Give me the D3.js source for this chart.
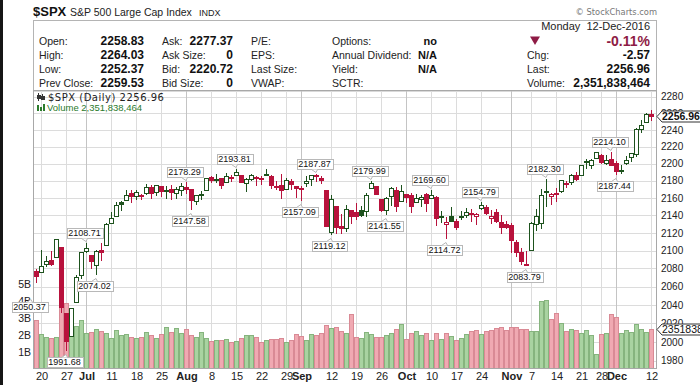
<!DOCTYPE html>
<html>
<head>
<meta charset="utf-8">
<script src="https://cdnjs.cloudflare.com/ajax/libs/d3/7.8.5/d3.min.js"></script>
<style>
  body { margin: 0; background: #fff; }
  svg { display: block; font-family: "Liberation Sans", Arial, sans-serif; }
</style>
</head>
<body>
<div id="chart"></div>
<script>
// daily bars, 17-Jun-2016 .. 12-Dec-2016 (index 0 = Jun 17)
var prevClose0 = 2077.99;

var opens = [2077.0,2075.6,2085.2,2089.8,2092.3,2103.8,2031.5,2006.7,2042.7,2073.2,
  2099.3,2095.1,2084.4,2100.4,2106.0,2131.7,2139.5,2155.8,2157.9,2165.1,
  2162.0,2163.8,2166.1,2172.9,2166.5,2173.7,2168.97,2169.8,2166.1,2168.8,
  2173.15,2169.9,2156.8,2163.5,2168.8,2183.8,2182.2,2182.8,2177.97,2183.7,
  2186.1,2186.2,2177.8,2181.9,2184.2,2181.6,2187.8,2185.1,2173.3,2175.1,
  2170.2,2179.5,2173.6,2171.3,2177.5,2181.6,2185.2,2182.8,2169.1,2120.9,
  2150.5,2127.9,2125.4,2146.5,2143.99,2145.9,2144.6,2170.9,2173.3,2158.5,
  2146.0,2161.9,2168.9,2156.5,2164.3,2163.4,2155.1,2158.2,2164.2,2160.4,
  2161.4,2137.7,2130.3,2139.7,2132.95,2138.3,2140.8,2142.5,2139.4,2148.5,
  2149.7,2136.97,2144.1,2132.2,2129.8,2128.7,2109.4,2098.8,2083.8,2100.6,
  2129.9,2131.6,2167.5,2162.7,2165.6,2168.3,2177.5,2178.6,2186.85,2186.4,
  2201.6,2198.6,2206.3,2210.2,2200.8,2204.97,2200.2,2191.1,2200.6,2207.3,
  2210.7,2241.1,2249.7,2258.83];

var highs = [2079.6,2100.7,2093.7,2099.7,2113.5,2103.8,2031.5,2036.1,2073.1,2098.9,
  2108.71,2095.1,2100.7,2109.1,2131.7,2143.2,2155.4,2156.5,2169.1,2169.1,
  2169.0,2164.6,2175.6,2174.6,2175.1,2173.7,2173.5,2175.0,2172.9,2177.1,
  2178.29,2170.2,2163.8,2168.2,2182.9,2185.4,2187.7,2183.4,2188.45,2186.3,
  2193.81,2186.2,2183.1,2187.3,2185.0,2185.2,2193.4,2186.7,2179.0,2187.9,
  2183.5,2182.3,2173.8,2173.6,2184.9,2186.6,2187.87,2184.9,2169.1,2163.3,
  2150.5,2141.3,2151.3,2146.5,2153.6,2150.8,2165.1,2179.99,2173.8,2158.5,
  2161.1,2172.4,2172.7,2175.3,2164.4,2165.5,2163.95,2162.9,2165.9,2169.6,
  2161.6,2145.4,2138.2,2149.2,2135.6,2144.4,2148.4,2147.2,2142.6,2154.79,
  2151.4,2145.7,2147.1,2140.7,2133.3,2131.5,2111.8,2102.6,2099.1,2132.0,
  2146.9,2170.1,2182.3,2165.9,2171.4,2180.8,2179.2,2188.1,2189.9,2198.7,
  2204.8,2204.8,2213.4,2211.1,2210.5,2214.1,2203.0,2197.95,2209.4,2212.8,
  2241.6,2251.7,2259.8,2264.03];

var lows = [2064.8,2075.6,2083.0,2084.4,2092.3,2032.6,1991.68,2006.7,2042.7,2070.0,
  2097.9,2080.9,2074.02,2089.4,2106.0,2131.7,2139.5,2146.2,2157.9,2155.5,
  2159.1,2159.0,2164.9,2159.8,2163.2,2161.9,2160.2,2159.1,2159.7,2163.5,
  2166.2,2147.58,2152.8,2159.1,2168.8,2177.9,2178.6,2172.0,2177.97,2179.4,
  2186.1,2178.1,2168.5,2180.5,2175.1,2175.96,2186.8,2171.2,2169.7,2160.4,
  2170.2,2170.4,2161.3,2157.09,2173.6,2175.1,2179.1,2177.5,2127.8,2119.12,
  2120.3,2119.6,2122.4,2131.2,2135.9,2139.2,2139.6,2170.9,2163.97,2145.0,
  2141.55,2151.8,2145.2,2156.5,2154.8,2144.0,2155.1,2150.3,2144.9,2160.4,
  2128.8,2132.8,2114.72,2132.98,2124.4,2135.5,2138.2,2133.4,2130.1,2146.9,
  2141.9,2131.6,2132.5,2119.4,2125.5,2097.9,2094.0,2085.2,2083.79,2100.6,
  2123.6,2125.4,2151.2,2152.5,2156.1,2166.4,2172.2,2176.6,2180.4,2186.4,
  2194.5,2194.5,2206.3,2200.4,2198.9,2198.8,2187.44,2188.4,2199.97,2202.5,
  2208.9,2237.6,2249.2,2252.37];

var closes = [2071.22,2083.25,2088.90,2085.45,2113.32,2037.41,2000.54,2036.09,2070.77,2098.86,
  2102.95,2088.55,2099.73,2097.90,2129.90,2137.16,2152.14,2152.43,2163.75,2161.74,
  2166.89,2163.78,2173.02,2165.17,2175.03,2168.48,2169.18,2166.58,2170.06,2173.60,
  2170.84,2157.03,2163.79,2164.25,2182.87,2180.89,2181.74,2175.49,2185.79,2184.05,
  2190.15,2178.15,2182.22,2187.02,2183.87,2182.64,2186.90,2175.44,2172.47,2169.04,
  2180.38,2176.12,2170.95,2170.86,2179.98,2186.48,2186.16,2181.30,2127.81,2159.04,
  2127.02,2125.77,2147.26,2139.16,2139.12,2139.76,2163.12,2177.18,2164.69,2146.10,
  2159.93,2171.37,2151.13,2168.27,2161.20,2150.49,2159.73,2160.77,2153.74,2163.66,
  2136.73,2139.18,2132.55,2132.98,2126.50,2139.60,2144.29,2141.34,2141.16,2151.33,
  2143.16,2139.43,2133.04,2126.41,2126.15,2111.72,2097.94,2088.66,2085.18,2131.52,
  2139.56,2163.26,2167.48,2164.45,2164.20,2180.39,2176.94,2187.12,2181.90,2198.18,
  2202.94,2204.72,2213.35,2201.72,2204.66,2198.81,2191.08,2191.95,2204.71,2212.23,
  2241.35,2246.19,2259.53,2256.96];

// volume in billions
var volumes = [2.86,2.07,1.9,1.83,1.86,4.5,3.9,2.66,2.52,2.86,
  2.1,2.16,2.32,2.2,2.1,1.83,2.26,2.0,2.02,1.86,
  1.8,1.9,2.18,2.0,1.84,2.07,2.46,2.14,2.4,2.1,
  2.34,2.0,1.9,2.16,1.8,1.66,1.7,1.72,1.77,1.6,
  1.62,1.8,2.0,2.0,1.86,1.59,1.71,1.77,1.77,1.83,
  1.59,1.71,2.06,1.94,1.71,2.06,1.96,2.12,2.6,2.42,
  2.46,2.22,2.1,3.21,1.9,1.8,2.18,2.02,1.9,1.86,
  1.96,2.12,2.36,2.66,1.77,2.12,2.22,1.96,2.12,1.71,
  2.12,1.77,2.12,1.92,1.71,1.83,2.06,2.2,2.3,2.02,
  2.2,2.3,2.4,2.44,2.3,2.46,2.46,2.32,2.32,2.24,
  2.2,3.99,4.05,2.92,3.31,2.72,2.22,2.36,2.26,2.12,
  2.3,1.96,0.87,2.02,2.1,3.21,3.03,2.12,2.3,2.18,
  2.66,2.36,2.14,2.35];

// x axis: bar index of each labelled week / month
var tickIdx    = [1, 6, 10, 15, 20, 25, 30, 35, 40, 45, 50, 53, 59, 64, 69, 74, 79, 84, 89, 95, 99, 104, 109, 113, 116, 123];
var tickLabels = ["20","27","Jul","11","18","25","Aug","8","15","22","29","Sep","12","19","26","Oct","10","17","24","Nov","7","14","21","28","Dec","12"];
var monthTicks = ["Jul","Aug","Sep","Oct","Nov","Dec"];

var priceTicks = [1980,2000,2020,2040,2060,2080,2100,2120,2140,2160,2180,2200,2220,2240,2260,2280];
var volTicks = [1,2,3,4,5];

// swing high / low labels
var noteIdx    = [-1, 6, 10, 12, 30, 31, 40, 53, 56, 59, 67, 70, 79, 82, 89, 98, 102, 115, 116];
var noteValues = [2050.37,1991.68,2108.71,2074.02,2178.29,2147.58,2193.81,2157.09,2187.87,2119.12,
  2179.99,2141.55,2169.60,2114.72,2154.79,2083.79,2182.30,2214.10,2187.44];
var noteSide   = ["below","below","above","below","above","below","above","below","above","below",
  "above","below","above","below","above","below","above","above","below"];

var infoRows = [
  ["Open:", "2258.83", "Ask:", "2277.37", "P/E:", "Options:", "no", "Chg:", "-2.57"],
  ["High:", "2264.03", "Ask Size:", "0", "EPS:", "Annual Dividend:", "N/A", "Chg:", "-2.57"],
  ["Low:", "2252.37", "Bid:", "2220.72", "Last Size:", "Yield:", "N/A", "Last:", "2256.96"],
  ["Prev Close:", "2259.53", "Bid Size:", "0", "VWAP:", "SCTR:", "", "Volume:", "2,351,838,464"]
];

var svgWidth = 700, svgHeight = 385;
var plot = { left: 33, right: 656, top: 91, bottom: 368.5 };

var svg = d3.select("#chart").append("svg")
  .attr("width", svgWidth)
  .attr("height", svgHeight);

var x = d3.scaleLinear().domain([0, closes.length - 1]).range([36, 651]);
var y = d3.scaleLog().domain([1980, 2280]).range([360.7, 96.7]);
var yVol = d3.scaleLinear().domain([0, 5]).range([plot.bottom, 284.3]);

var green = "#1d521d", red = "#b8123c";

// left dark edge of the screenshot
svg.append("rect").attr("x", 0).attr("y", 0).attr("width", 3).attr("height", svgHeight).attr("fill", "#161616");

// ---- header ----
svg.append("text").attr("x", 33).attr("y", 16).attr("font-size", 13).attr("font-weight", "bold").attr("fill", "#111").text("$SPX");
svg.append("text").attr("x", 70).attr("y", 16).attr("font-size", 10.5).attr("fill", "#222").text("S&P 500 Large Cap Index");
svg.append("text").attr("x", 199).attr("y", 16).attr("font-size", 9).attr("fill", "#222").text("INDX");
svg.append("text").attr("x", 657).attr("y", 15).attr("text-anchor", "end")
  .attr("font-family", "DejaVu Sans").attr("font-size", 8.3).attr("fill", "#777").text("\u00a9 StockCharts.com");

svg.append("rect").attr("x", 33.5).attr("y", 20.5).attr("width", plot.right - 33).attr("height", plot.top - 20.5)
  .attr("fill", "#fff").attr("stroke", "#b4b4b4");

var rowY = [45, 59, 73, 87];
infoRows.forEach(function (r, k) {
  var g = svg.append("g").attr("font-size", 10.5).attr("fill", "#222");
  g.append("text").attr("x", 39).attr("y", rowY[k]).text(r[0]);
  g.append("text").attr("x", 144).attr("y", rowY[k]).attr("text-anchor", "end").attr("font-size", 12).attr("font-weight", "bold").attr("fill", "#111").text(r[1]);
  g.append("text").attr("x", 162).attr("y", rowY[k]).text(r[2]);
  g.append("text").attr("x", 233).attr("y", rowY[k]).attr("text-anchor", "end").attr("font-size", 12).attr("font-weight", "bold").attr("fill", "#111").text(r[3]);
  g.append("text").attr("x", 251).attr("y", rowY[k]).text(r[4]);
  g.append("text").attr("x", 332).attr("y", rowY[k]).text(r[5]);
  g.append("text").attr("x", 437).attr("y", rowY[k]).attr("text-anchor", "end").attr("font-size", 11).attr("font-weight", "bold").attr("fill", "#111").text(r[6]);
  if (k > 0) {
    g.append("text").attr("x", 527).attr("y", rowY[k]).text(r[7]);
    g.append("text").attr("x", 650).attr("y", rowY[k]).attr("text-anchor", "end").attr("font-size", 12).attr("font-weight", "bold").attr("fill", "#111").text(r[8]);
  }
});
svg.append("text").attr("x", 650).attr("y", 30).attr("text-anchor", "end").attr("font-size", 11).attr("fill", "#222")
  .text("Monday\u00a0\u00a012-Dec-2016");
svg.append("path").attr("d", "M530,36.5 L540,36.5 L535,45 Z").attr("fill", "#8e1b45");
svg.append("text").attr("x", 650).attr("y", 46).attr("text-anchor", "end").attr("font-size", 14).attr("font-weight", "bold").attr("fill", "#8e1b45").text("-0.11%");

// ---- grid ----
var grid = svg.append("g").attr("shape-rendering", "crispEdges");
grid.selectAll(".hg").data(priceTicks).enter().append("line")
  .attr("x1", plot.left).attr("x2", plot.right)
  .attr("y1", d => Math.round(y(d)) + 0.5).attr("y2", d => Math.round(y(d)) + 0.5)
  .attr("stroke", "#dcdcdc");
grid.selectAll(".vg").data(tickIdx).enter().append("line")
  .attr("x1", d => x(d) + 0.5).attr("x2", d => x(d) + 0.5)
  .attr("y1", plot.top).attr("y2", plot.bottom)
  .attr("stroke", (d, i) => monthTicks.indexOf(tickLabels[i]) >= 0 ? "#c4c4c4" : "#dcdcdc");

// ---- volume overlay ----
var bars = closes.map(function (c, i) {
  return { i: i, o: opens[i], h: highs[i], l: lows[i], c: c, v: volumes[i],
           up: c >= (i ? closes[i - 1] : prevClose0) };
});

svg.append("g").attr("shape-rendering", "crispEdges")
  .selectAll("rect").data(bars).enter().append("rect")
  .attr("x", d => x(d.i) - 1.5)
  .attr("width", 4)
  .attr("y", d => Math.round(yVol(d.v)) + 0.5)
  .attr("height", d => plot.bottom - Math.round(yVol(d.v)) - 1)
  .attr("fill", d => d.up ? "#a9d3a1" : "#f0a9b2")
  .attr("stroke", d => d.up ? "#86b47e" : "#d98a95");

// ---- candles ----
var candles = svg.append("g").attr("shape-rendering", "crispEdges")
  .selectAll("g").data(bars).enter().append("g");

candles.append("line")
  .attr("x1", d => x(d.i) + 0.5).attr("x2", d => x(d.i) + 0.5)
  .attr("y1", d => Math.round(y(d.h))).attr("y2", d => Math.round(y(d.l)) + 1)
  .attr("stroke", d => d.up ? green : red);

candles.append("rect")
  .attr("x", d => x(d.i) - 1.5)
  .attr("width", 4)
  .attr("y", d => Math.round(y(Math.max(d.o, d.c))) + 0.5)
  .attr("height", d => Math.max(1, Math.round(y(Math.min(d.o, d.c))) - Math.round(y(Math.max(d.o, d.c)))))
  .attr("fill", d => d.c < d.o ? (d.up ? green : red) : "#fff")
  .attr("stroke", d => d.up ? green : red);

// ---- legend ----
svg.append("path").attr("d", "M38.5,93 V101 M42.5,94 V100 M37,95.5 H40 V98.5 H37 Z M41,96 H44 V99 H41 Z")
  .attr("stroke", "#333").attr("fill", "#333").attr("shape-rendering", "crispEdges");
svg.append("text").attr("x", 48).attr("y", 101).attr("font-family", "DejaVu Sans").attr("font-size", 10)
  .attr("letter-spacing", 0.5).attr("fill", "#222").text("$SPX (Daily) 2256.96");
svg.append("path").attr("d", "M37,105 H39 V111 H37 Z M40,107 H42 V111 H40 Z M43,104 H45 V111 H43 Z")
  .attr("fill", "#2b7a2b");
svg.append("text").attr("x", 47).attr("y", 111).attr("font-size", 9.5).attr("fill", "#2b7a2b").text("Volume 2,351,838,464");

// ---- axes ----
var priceAxis = svg.append("g")
  .attr("transform", `translate(${plot.right},0)`)
  .call(d3.axisRight(y).tickValues(priceTicks).tickFormat(d3.format("d")).tickSize(0).tickPadding(5));
priceAxis.select(".domain").remove();
priceAxis.selectAll("text").attr("font-size", 10).attr("font-family", "Liberation Sans").attr("fill", "#222");

var volAxis = svg.append("g")
  .attr("transform", `translate(${plot.left - 1},0)`)
  .call(d3.axisLeft(yVol).tickValues(volTicks).tickFormat(d => d + "B").tickSize(0).tickPadding(1));
volAxis.select(".domain").remove();
volAxis.selectAll("text").attr("font-size", 10.5).attr("font-family", "Liberation Sans").attr("fill", "#222");

var xAxis = svg.append("g")
  .attr("transform", `translate(0.5,${plot.bottom})`)
  .call(d3.axisBottom(x).tickValues(tickIdx).tickFormat((d, i) => tickLabels[i]).tickSize(0).tickPadding(4));
xAxis.select(".domain").remove();
xAxis.selectAll("text").attr("font-size", 11).attr("font-family", "Liberation Sans").attr("fill", "#222")
  .attr("font-weight", (d, i) => monthTicks.indexOf(tickLabels[i]) >= 0 ? "bold" : "normal");

// plot frame
svg.append("rect").attr("x", plot.left + 0.5).attr("y", plot.top - 0.5)
  .attr("width", plot.right - plot.left).attr("height", plot.bottom - plot.top + 0.5)
  .attr("fill", "none").attr("stroke", "#a8a8a8").attr("shape-rendering", "crispEdges");

// ---- swing labels (drawn over the axes, as in the original) ----
var notes = svg.append("g").attr("font-size", 9).attr("fill", "#111");
noteIdx.forEach(function (idx, k) {
  var cx = x(idx) - 1.5;
  var py = y(noteValues[k]);
  var boxH = 10;
  var top = noteSide[k] === "above" ? py - 5 - boxH : py + 7;
  var t = notes.append("text").attr("x", cx).attr("y", top + 8).attr("text-anchor", "middle")
    .text(noteValues[k].toFixed(2));
  var w = t.node().getComputedTextLength() + 3;
  notes.insert("rect", "text")
    .attr("x", Math.round(cx - w / 2) + 0.5).attr("y", Math.round(top) + 0.5)
    .attr("width", Math.round(w)).attr("height", boxH)
    .attr("fill", "#fff").attr("stroke", "#b8b8b8");
  var edge = noteSide[k] === "above" ? Math.round(top) + boxH + 0.5 : Math.round(top) + 0.5;
  var tip = noteSide[k] === "above" ? edge + 3 : edge - 3;
  notes.append("path")
    .attr("d", `M${cx - 3},${edge} L${cx + 1.5},${tip} L${cx + 3},${edge}`)
    .attr("fill", "#fff").attr("stroke", "#b8b8b8");
});

// ---- last value callouts ----
function callout(cy, label, bold) {
  var g = svg.append("g");
  var t = Math.round(cy);
  g.append("path")
    .attr("d", `M657,${t + 0.5} L662,${t - 5} H705 V${t + 6} H662 Z`)
    .attr("fill", "#fff").attr("stroke", "#333");
  g.append("text").attr("x", 662).attr("y", t + 4).attr("font-size", 10.5)
    .attr("font-weight", bold ? "bold" : "normal").attr("fill", "#111").text(label);
}
callout(y(closes[closes.length - 1]), "2256.96", true);
callout(yVol(volumes[volumes.length - 1]), "2351838464", false);
</script>
</body>
</html>
